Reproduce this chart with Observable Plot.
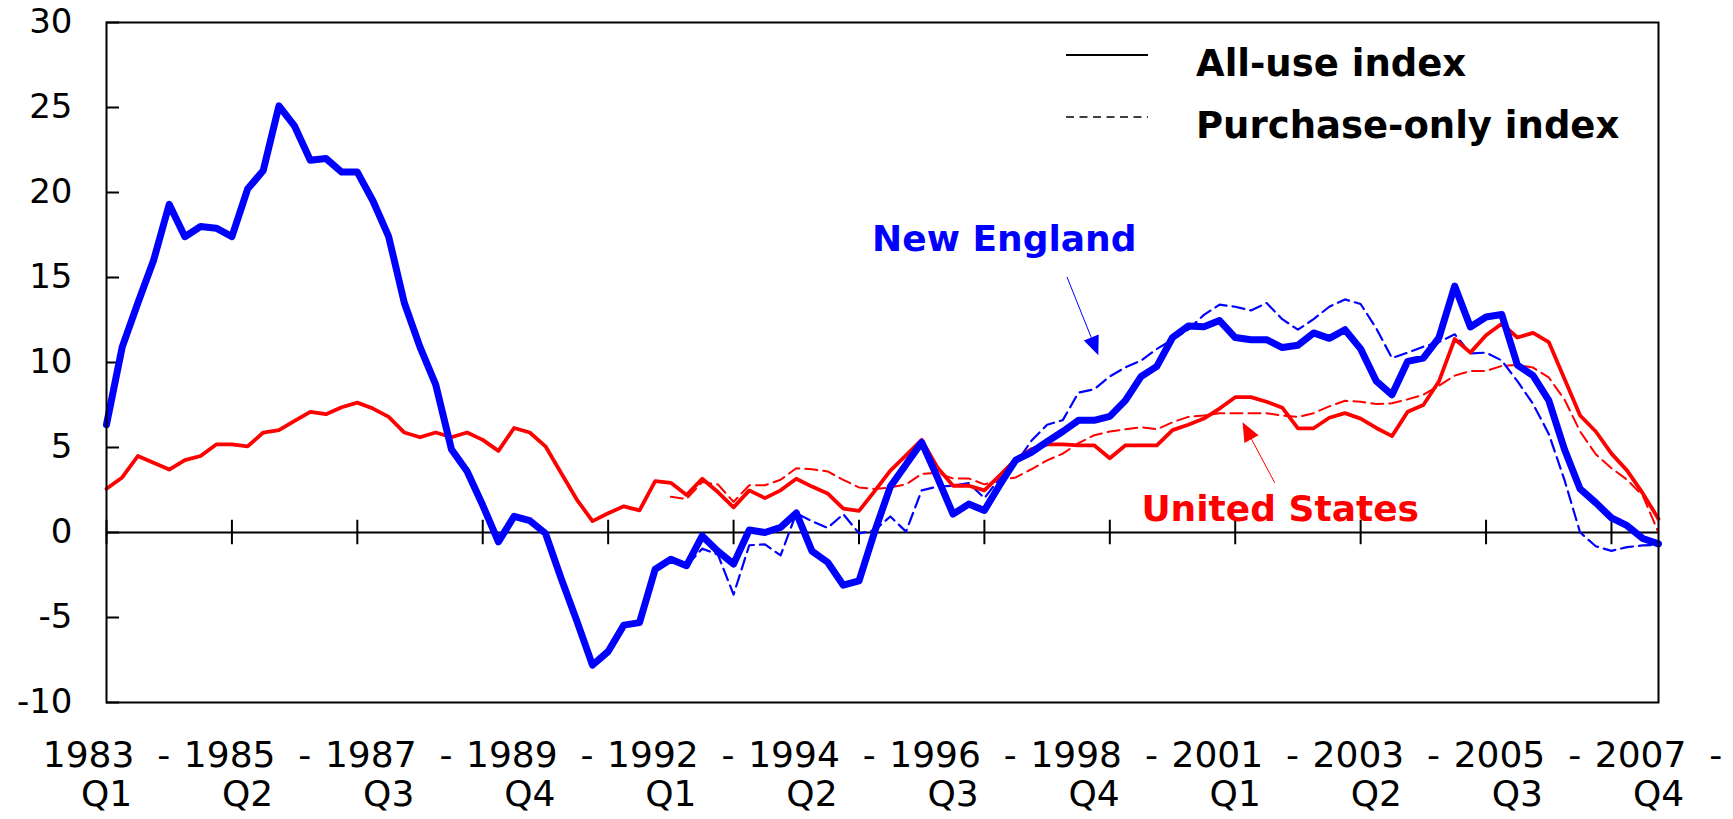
<!DOCTYPE html>
<html><head><meta charset="utf-8">
<script src="https://cdn.jsdelivr.net/npm/d3@7"></script>
<script src="https://cdn.jsdelivr.net/npm/@observablehq/plot@0.6"></script>
<style>
body{margin:0;background:#fff;}
#chart{width:1733px;height:819px;}
</style>
</head><body><div id="chart"></div>
<script>
// Quarterly 4-quarter % change, 1983 Q1 .. 2007 Q4 (100 quarters)
const tickLabels = ["1983\u00a0\u00a0-\nQ1","1985\u00a0\u00a0-\nQ2","1987\u00a0\u00a0-\nQ3","1989\u00a0\u00a0-\nQ4","1992\u00a0\u00a0-\nQ1","1994\u00a0\u00a0-\nQ2","1996\u00a0\u00a0-\nQ3","1998\u00a0\u00a0-\nQ4","2001\u00a0\u00a0-\nQ1","2003\u00a0\u00a0-\nQ2","2005\u00a0\u00a0-\nQ3","2007\u00a0\u00a0-\nQ4"];
const yTicks = [-10,-5,0,5,10,15,20,25,30];
const purchaseStart = 36; // purchase-only series begin 1992 Q1

const neAll = [6.35,10.9,13.5,16.0,19.3,17.4,18.0,17.9,17.4,20.2,
  21.3,25.1,23.9,21.9,22.0,21.2,21.2,19.5,17.4,13.5,
  10.9,8.7,4.9,3.6,1.6,-0.55,0.95,0.7,-0.05,-2.7,
  -5.2,-7.8,-7.0,-5.45,-5.3,-2.16,-1.57,-1.95,-0.2,-1.1,
  -1.85,0.15,0.0,0.3,1.15,-1.1,-1.75,-3.1,-2.85,0.05,
  2.7,4.0,5.3,3.24,1.08,1.67,1.3,2.83,4.26,4.72,
  5.34,5.94,6.6,6.6,6.83,7.77,9.18,9.77,11.47,12.15,
  12.1,12.47,11.47,11.34,11.34,10.88,11.01,11.74,11.42,11.93,
  10.8,8.9,8.1,10.07,10.26,11.47,14.5,12.09,12.68,12.82,
  9.85,9.23,7.77,4.9,2.56,1.75,0.86,0.4,-0.35,-0.67];

const usAll = [2.57,3.24,4.5,4.1,3.7,4.26,4.5,5.18,5.18,5.07,
  5.88,6.02,6.56,7.1,6.96,7.37,7.64,7.29,6.8,5.88,
  5.6,5.88,5.6,5.88,5.45,4.8,6.15,5.88,5.07,3.5,
  1.94,0.67,1.13,1.54,1.3,3.02,2.92,2.2,3.16,2.38,
  1.48,2.48,2.02,2.48,3.16,2.7,2.3,1.4,1.27,2.43,
  3.64,4.53,5.45,3.83,2.75,2.75,2.48,3.37,4.3,4.9,
  5.18,5.18,5.13,5.13,4.37,5.13,5.13,5.13,6.02,6.34,
  6.7,7.29,7.96,7.96,7.69,7.34,6.13,6.13,6.75,7.02,
  6.7,6.15,5.67,7.1,7.5,8.9,11.38,10.58,11.6,12.28,
  11.47,11.74,11.2,9.04,6.88,5.94,4.64,3.64,2.3,0.8];

const nePurch = [-1.6,-1.95,-0.95,-1.3,-3.65,-0.75,-0.7,-1.35,1.13,0.67,
  0.27,1.08,-0.05,0.13,0.94,0.05,2.48,2.7,2.75,2.91,
  2.02,3.24,4.05,5.4,6.34,6.61,8.23,8.42,9.18,9.72,
  10.12,10.8,11.34,11.93,12.8,13.4,13.28,13.06,13.5,12.55,
  11.93,12.55,13.28,13.71,13.44,12.0,10.26,10.58,10.93,11.2,
  11.66,10.53,10.58,10.12,8.9,7.56,5.8,3.1,0.0,-0.81,
  -1.08,-0.86,-0.76,-0.73];

const usPurch = [2.1,1.97,2.97,2.83,1.8,2.78,2.78,3.1,3.78,3.72,
  3.59,3.1,2.65,2.56,2.65,2.83,3.45,3.5,3.18,3.18,
  2.83,3.1,3.24,3.72,4.24,4.64,5.26,5.72,5.94,6.07,
  6.2,6.07,6.48,6.8,6.88,7.02,7.02,7.02,7.02,6.88,
  6.8,7.02,7.42,7.75,7.69,7.56,7.6,7.83,8.1,8.64,
  9.23,9.5,9.5,9.8,9.85,9.7,9.12,7.83,5.94,4.6,
  3.78,3.1,2.16,0.0];

const legendItems = ["All-use index","Purchase-only index"];
const annotations = [
  {text:"New England", color:"#0000FF", tx:57.3, ty:17.3, ax1:61.3, ay1:15.0, ax2:63.3, ay2:10.4},
  {text:"United States", color:"#FF0000", tx:74.9, ty:1.4, ax1:74.55, ay1:2.9, ax2:72.5, ay2:6.45}
];

const toRows = (arr, offset) => arr.map((v, k) => ({i: k + offset, v}));
const rNeAll = toRows(neAll, 0), rUsAll = toRows(usAll, 0);
const rNeP = toRows(nePurch, purchaseStart), rUsP = toRows(usPurch, purchaseStart);
const nQ = neAll.length;
const labelIdx = tickLabels.map((_, k) => k * 9);
const tickIdx = d3.range(0, nQ, 8);

const FONT = "DejaVu Sans, Verdana, sans-serif";
const chart = Plot.plot({
  width: 1733, height: 819,
  marginLeft: 106, marginRight: 75, marginTop: 22, marginBottom: 117,
  x: {domain: [0, nQ - 1], axis: null},
  y: {domain: [-10, 30], axis: null},
  style: {fontFamily: FONT, background: "white", color: "black"},
  marks: [
    Plot.ruleY(yTicks, {x1: 0, x2: 0.83, stroke: "black", strokeWidth: 2}),
    Plot.ruleY([0], {stroke: "black", strokeWidth: 2}),
    Plot.ruleX(tickIdx, {y1: -0.72, y2: 0.72, stroke: "black", strokeWidth: 2}),
    Plot.text(yTicks, {y: d => d, frameAnchor: "left", dx: -34, textAnchor: "end", text: d => String(d), fontSize: 34, fill: "black"}),
    Plot.text(labelIdx, {x: d => d, frameAnchor: "bottom", lineAnchor: "top", dy: 37, lineHeight: 1.08, fontSize: 36, text: (d, k) => tickLabels[k], fill: "black"}),
    Plot.line(rUsP, {x: "i", y: "v", stroke: "#FF0000", strokeWidth: 2, strokeDasharray: "12,6"}),
    Plot.line(rNeP, {x: "i", y: "v", stroke: "#0000FF", strokeWidth: 2.2, strokeDasharray: "12,6"}),
    Plot.line(rUsAll, {x: "i", y: "v", stroke: "#FF0000", strokeWidth: 3.8, strokeLinejoin: "round"}),
    Plot.line(rNeAll, {x: "i", y: "v", stroke: "#0000FF", strokeWidth: 7, strokeLinejoin: "round", strokeLinecap: "round"}),
    Plot.frame({stroke: "black", strokeWidth: 2})
  ]
});
document.getElementById("chart").appendChild(chart);

// annotations & legend (pixel positions derived from the chart's scales)
const svg = d3.select(chart);
const sx = chart.scale("x"), sy = chart.scale("y");
annotations.forEach(a => {
  svg.append("text").attr("x", sx.apply(a.tx)).attr("y", sy.apply(a.ty))
    .attr("text-anchor", "middle").attr("dy", "0.36em")
    .attr("font-family", FONT).attr("font-weight", "bold").attr("font-size", 36)
    .attr("fill", a.color).text(a.text);
  const x1 = sx.apply(a.ax1), y1 = sy.apply(a.ay1), x2 = sx.apply(a.ax2), y2 = sy.apply(a.ay2);
  const ang = Math.atan2(y2 - y1, x2 - x1), L = 19, W = 8;
  const bx = x2 - L * Math.cos(ang), by = y2 - L * Math.sin(ang);
  svg.append("line").attr("x1", x1).attr("y1", y1).attr("x2", bx).attr("y2", by)
    .attr("stroke", a.color).attr("stroke-width", 1);
  const px = -Math.sin(ang), py = Math.cos(ang);
  svg.append("path").attr("d", `M${x2},${y2}L${bx + W * px},${by + W * py}L${bx - W * px},${by - W * py}Z`)
    .attr("fill", a.color);
});
const leg = svg.append("g");
legendItems.forEach((t, k) => {
  const yy = 55 + k * 62;
  leg.append("line").attr("x1", 1066).attr("x2", 1148).attr("y1", yy).attr("y2", yy)
    .attr("stroke", "black").attr("stroke-width", k ? 1.6 : 2).attr("stroke-dasharray", k ? "8,5.5" : null);
  leg.append("text").attr("x", 1196).attr("y", yy + 21).attr("text-anchor", "start").attr("font-family", FONT)
    .attr("font-weight", "bold").attr("font-size", 37).attr("fill", "black").text(t);
});
</script>
</body></html>
